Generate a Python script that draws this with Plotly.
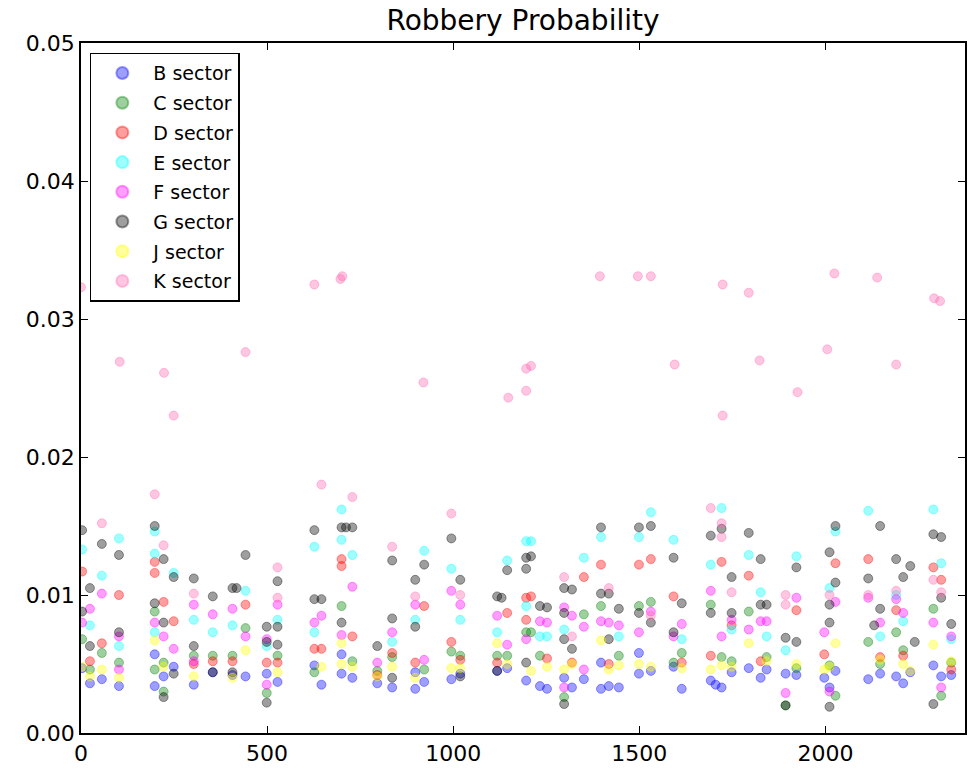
import plotly.graph_objects as go

sectors = ["B sector", "C sector", "D sector", "E sector", "F sector", "G sector", "J sector", "K sector"]

B_x = [3, 24, 56, 102, 198, 198, 222, 249, 303, 354, 407, 442, 499, 528, 627, 646, 700, 700, 729, 796, 836, 898, 898, 922, 995, 1019, 1118, 1145, 1196, 1233, 1252, 1298, 1319, 1351, 1397, 1397, 1418, 1445, 1499, 1499, 1531, 1592, 1614, 1692, 1705, 1721, 1748, 1794, 1826, 1842, 1893, 1922, 1997, 2011, 2027, 2115, 2147, 2190, 2209, 2228, 2290, 2311, 2338]
B_y = [0.0047, 0.0036, 0.0039, 0.0034, 0.0034, 0.0057, 0.0041, 0.0048, 0.0035, 0.0044, 0.0042, 0.0041, 0.0043, 0.0037, 0.0049, 0.0035, 0.0043, 0.0057, 0.0040, 0.0036, 0.0033, 0.0032, 0.0044, 0.0037, 0.0039, 0.0043, 0.0045, 0.0047, 0.0038, 0.0034, 0.0032, 0.0040, 0.0033, 0.0039, 0.0032, 0.0051, 0.0034, 0.0033, 0.0043, 0.0058, 0.0045, 0.0048, 0.0032, 0.0038, 0.0035, 0.0033, 0.0044, 0.0047, 0.0040, 0.0046, 0.0043, 0.0042, 0.0040, 0.0033, 0.0045, 0.0039, 0.0043, 0.0041, 0.0036, 0.0044, 0.0049, 0.0041, 0.0042]

C_x = [3, 24, 56, 102, 198, 198, 222, 222, 303, 354, 407, 442, 499, 528, 627, 700, 729, 796, 836, 922, 995, 1019, 1118, 1145, 1196, 1209, 1233, 1298, 1351, 1397, 1445, 1499, 1531, 1592, 1614, 1692, 1721, 1748, 1794, 1842, 1893, 1922, 2011, 2027, 2115, 2147, 2190, 2209, 2290, 2311, 2338]
C_y = [0.0068, 0.0046, 0.0058, 0.0051, 0.0088, 0.0046, 0.0051, 0.0030, 0.0056, 0.0056, 0.0056, 0.0076, 0.0029, 0.0056, 0.0044, 0.0092, 0.0052, 0.0045, 0.0055, 0.0046, 0.0059, 0.0056, 0.0056, 0.0056, 0.0073, 0.0073, 0.0056, 0.0026, 0.0086, 0.0092, 0.0056, 0.0092, 0.0095, 0.0051, 0.0058, 0.0093, 0.0055, 0.0052, 0.0088, 0.0055, 0.0020, 0.0047, 0.0049, 0.0027, 0.0066, 0.0050, 0.0073, 0.0060, 0.0090, 0.0027, 0.0051]

D_x = [3, 24, 56, 102, 198, 198, 222, 249, 303, 354, 407, 442, 499, 528, 627, 646, 700, 700, 729, 796, 836, 898, 922, 995, 1019, 1118, 1145, 1196, 1196, 1209, 1252, 1319, 1351, 1397, 1418, 1499, 1531, 1592, 1614, 1692, 1721, 1748, 1794, 1826, 1922, 1997, 2027, 2115, 2147, 2190, 2209, 2290, 2311, 2338]
D_y = [0.0117, 0.0052, 0.0065, 0.0100, 0.0124, 0.0116, 0.0095, 0.0081, 0.0050, 0.0052, 0.0052, 0.0093, 0.0051, 0.0051, 0.0061, 0.0061, 0.0126, 0.0121, 0.0070, 0.0042, 0.0058, 0.0051, 0.0092, 0.0066, 0.0053, 0.0051, 0.0087, 0.0098, 0.0082, 0.0099, 0.0054, 0.0051, 0.0113, 0.0122, 0.0050, 0.0122, 0.0126, 0.0099, 0.0051, 0.0056, 0.0124, 0.0078, 0.0114, 0.0052, 0.0089, 0.0057, 0.0123, 0.0126, 0.0055, 0.0089, 0.0056, 0.0120, 0.0111, 0.0046]

E_x = [3, 24, 56, 102, 102, 198, 198, 198, 249, 303, 354, 407, 442, 499, 528, 627, 627, 700, 700, 729, 836, 898, 922, 995, 1019, 1118, 1145, 1196, 1209, 1196, 1233, 1252, 1298, 1351, 1397, 1445, 1499, 1531, 1592, 1614, 1692, 1721, 1748, 1794, 1826, 1842, 1893, 1922, 2011, 2027, 2115, 2147, 2190, 2209, 2290, 2311, 2338]
E_y = [0.0133, 0.0078, 0.0114, 0.0141, 0.0063, 0.0146, 0.0130, 0.0073, 0.0116, 0.0082, 0.0073, 0.0078, 0.0103, 0.0063, 0.0082, 0.0135, 0.0073, 0.0162, 0.0140, 0.0129, 0.0066, 0.0082, 0.0132, 0.0119, 0.0082, 0.0073, 0.0125, 0.0139, 0.0139, 0.0092, 0.0070, 0.0070, 0.0075, 0.0127, 0.0142, 0.0070, 0.0142, 0.0160, 0.0140, 0.0068, 0.0122, 0.0163, 0.0075, 0.0129, 0.0102, 0.0070, 0.0060, 0.0128, 0.0105, 0.0146, 0.0161, 0.0070, 0.0100, 0.0081, 0.0162, 0.0123, 0.0068]

F_x = [3, 24, 56, 102, 102, 198, 222, 249, 303, 303, 354, 407, 442, 499, 499, 528, 627, 646, 700, 729, 796, 836, 898, 922, 995, 1019, 1118, 1145, 1196, 1233, 1252, 1298, 1298, 1319, 1351, 1351, 1397, 1418, 1445, 1499, 1531, 1592, 1614, 1692, 1721, 1748, 1794, 1826, 1842, 1893, 1922, 1997, 2011, 2027, 2115, 2147, 2190, 2209, 2290, 2311, 2338]
F_y = [0.0080, 0.0090, 0.0101, 0.0070, 0.0046, 0.0080, 0.0070, 0.0061, 0.0093, 0.0052, 0.0086, 0.0090, 0.0070, 0.0068, 0.0035, 0.0093, 0.0080, 0.0085, 0.0071, 0.0106, 0.0051, 0.0073, 0.0093, 0.0053, 0.0103, 0.0093, 0.0085, 0.0064, 0.0068, 0.0081, 0.0080, 0.0091, 0.0033, 0.0085, 0.0077, 0.0046, 0.0081, 0.0080, 0.0078, 0.0073, 0.0088, 0.0070, 0.0079, 0.0103, 0.0070, 0.0082, 0.0075, 0.0081, 0.0081, 0.0029, 0.0098, 0.0073, 0.0030, 0.0095, 0.0098, 0.0080, 0.0097, 0.0087, 0.0080, 0.0033, 0.0070]

G_x = [3, 3, 24, 24, 56, 102, 102, 198, 198, 222, 222, 222, 249, 249, 303, 303, 354, 354, 407, 418, 407, 442, 499, 499, 499, 528, 528, 528, 627, 627, 646, 700, 712, 729, 700, 796, 836, 836, 836, 898, 898, 922, 995, 1019, 1019, 1118, 1130, 1118, 1145, 1196, 1196, 1209, 1196, 1233, 1252, 1298, 1319, 1298, 1298, 1319, 1298, 1397, 1397, 1418, 1445, 1418, 1499, 1531, 1499, 1531, 1592, 1592, 1614, 1692, 1721, 1692, 1748, 1748, 1794, 1826, 1826, 1842, 1893, 1893, 1922, 1922, 2027, 2011, 2027, 2011, 2011, 2011, 2147, 2115, 2147, 2131, 2190, 2209, 2228, 2240, 2290, 2311, 2311, 2290, 2338]
G_y = [0.0147, 0.0088, 0.0105, 0.0063, 0.0137, 0.0129, 0.0073, 0.0150, 0.0094, 0.0126, 0.0080, 0.0026, 0.0113, 0.0043, 0.0112, 0.0063, 0.0099, 0.0044, 0.0105, 0.0105, 0.0044, 0.0129, 0.0077, 0.0066, 0.0022, 0.0110, 0.0077, 0.0064, 0.0147, 0.0097, 0.0097, 0.0149, 0.0149, 0.0149, 0.0080, 0.0063, 0.0125, 0.0083, 0.0040, 0.0111, 0.0077, 0.0122, 0.0141, 0.0111, 0.0041, 0.0099, 0.0098, 0.0045, 0.0118, 0.0127, 0.0119, 0.0128, 0.0051, 0.0092, 0.0091, 0.0105, 0.0104, 0.0087, 0.0068, 0.0061, 0.0021, 0.0149, 0.0101, 0.0101, 0.0090, 0.0068, 0.0149, 0.0150, 0.0087, 0.0080, 0.0127, 0.0073, 0.0094, 0.0143, 0.0148, 0.0087, 0.0113, 0.0087, 0.0145, 0.0126, 0.0093, 0.0093, 0.0069, 0.0020, 0.0120, 0.0066, 0.0150, 0.0131, 0.0109, 0.0093, 0.0080, 0.0019, 0.0150, 0.0112, 0.0090, 0.0078, 0.0126, 0.0113, 0.0121, 0.0066, 0.0144, 0.0142, 0.0098, 0.0021, 0.0079]

J_x = [3, 24, 56, 102, 198, 222, 303, 407, 442, 528, 646, 700, 700, 729, 796, 836, 898, 995, 1019, 1118, 1145, 1209, 1252, 1298, 1319, 1397, 1418, 1445, 1499, 1531, 1614, 1692, 1721, 1748, 1794, 1842, 1922, 1997, 2011, 2027, 2147, 2209, 2228, 2290, 2338]
J_y = [0.0048, 0.0041, 0.0046, 0.0040, 0.0067, 0.0048, 0.0041, 0.0040, 0.0060, 0.0044, 0.0048, 0.0065, 0.0050, 0.0048, 0.0041, 0.0048, 0.0040, 0.0047, 0.0047, 0.0065, 0.0050, 0.0045, 0.0048, 0.0046, 0.0050, 0.0067, 0.0046, 0.0049, 0.0050, 0.0048, 0.0047, 0.0046, 0.0049, 0.0048, 0.0065, 0.0052, 0.0050, 0.0046, 0.0048, 0.0065, 0.0053, 0.0050, 0.0045, 0.0064, 0.0052]

K_x = [0, 104, 223, 249, 442, 627, 697, 702, 920, 1148, 1196, 1196, 1209, 1394, 1496, 1531, 1595, 1724, 1724, 1794, 1823, 1925, 2005, 2024, 2139, 2190, 2292, 2308,
       56, 198, 222, 303, 528, 528, 646, 729, 836, 898, 995, 1019, 1298, 1319, 1418, 1531, 1692, 1721, 1721, 1748, 1893, 1893, 2011, 2115, 2190, 2290, 2311]
K_y = [0.0323, 0.0269, 0.0261, 0.0230, 0.0276, 0.0325, 0.0329, 0.0331, 0.0254, 0.0243, 0.0248, 0.0264, 0.0266, 0.0331, 0.0331, 0.0331, 0.0267, 0.0325, 0.0230, 0.0319, 0.0270, 0.0247, 0.0278, 0.0333, 0.0330, 0.0267, 0.0315, 0.0313,
       0.0152, 0.0173, 0.0136, 0.0101, 0.0120, 0.0098, 0.0180, 0.0171, 0.0135, 0.0099, 0.0159, 0.0100, 0.0113, 0.0070, 0.0105, 0.0085, 0.0163, 0.0152, 0.0142, 0.0102, 0.0100, 0.0093, 0.0100, 0.0100, 0.0103, 0.0111, 0.0102]

x_ticks = [0, 500, 1000, 1500, 2000]
y_ticks = [0.00, 0.01, 0.02, 0.03, 0.04, 0.05]

series = [
    (B_x, B_y, "0,0,255"),
    (C_x, C_y, "0,128,0"),
    (D_x, D_y, "255,0,0"),
    (E_x, E_y, "0,255,255"),
    (F_x, F_y, "255,0,255"),
    (G_x, G_y, "0,0,0"),
    (J_x, J_y, "255,255,0"),
    (K_x, K_y, "255,105,180"),
]

fig = go.Figure()
for name, (xs, ys, rgb) in zip(sectors, series):
    fig.add_trace(go.Scatter(
        x=xs, y=ys, mode="markers", name=name, legendgroup=name,
        marker=dict(size=9, color=f"rgba({rgb},0.38)",
                    line=dict(color=f"rgba({rgb},0.38)", width=1)),
    ))

font_family = "DejaVu Sans"
fig.update_layout(
    width=968, height=774,
    margin=dict(l=81, r=1, t=43, b=41),
    paper_bgcolor="white", plot_bgcolor="white",
    font=dict(family=font_family, color="black"),
    title=dict(text="Robbery Probability", x=0.5, xref="paper", xanchor="center",
               y=0.974, yanchor="middle", font=dict(size=28, family=font_family)),
    legend=dict(x=0.01, y=0.986, xanchor="left", yanchor="top",
                bgcolor="white", bordercolor="black", borderwidth=1.5,
                font=dict(size=19, family=font_family), tracegroupgap=2,
                itemsizing="constant", itemwidth=52),
    showlegend=True,
)
fig.update_xaxes(range=[0, 2375], tickvals=x_ticks, ticktext=[str(v) for v in x_ticks],
                 showgrid=False, zeroline=False, showline=True, linecolor="black", linewidth=1.5,
                 mirror="ticks", ticks="inside", ticklen=7, tickcolor="black",
                 tickfont=dict(size=22, family=font_family))
fig.update_yaxes(range=[0, 0.05], tickvals=y_ticks, ticktext=[f"{v:.2f}" for v in y_ticks],
                 showgrid=False, zeroline=False, showline=True, linecolor="black", linewidth=1.5,
                 mirror="ticks", ticks="inside", ticklen=7, tickcolor="black",
                 tickfont=dict(size=22, family=font_family))

fig.write_html("out.html")
